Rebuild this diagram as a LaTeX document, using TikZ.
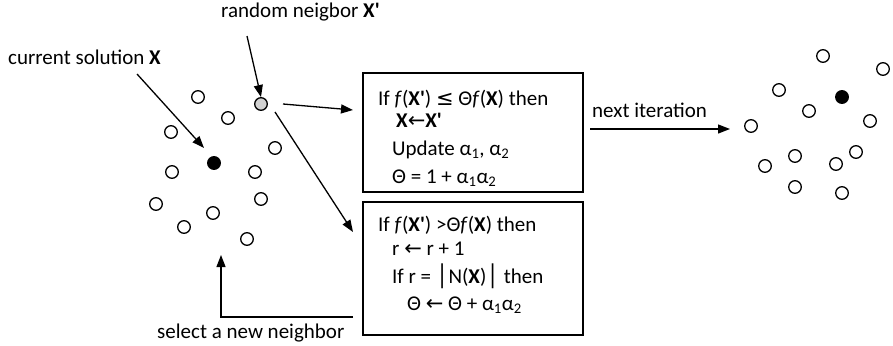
\documentclass[tikz,border=0pt]{standalone}
\usepackage{fontspec}
\setmainfont{Carlito}
\newfontfamily\sym{DejaVu Sans}
\usetikzlibrary{arrows.meta}
\newcommand{\Xp}{\textbf{X\textquotesingle}}
\newcommand{\alp}[1]{α\textsubscript{#1}}
\begin{document}
\begin{tikzpicture}[x=1pt,y=-1pt,
  font=\fontsize{21}{25}\selectfont,
  dot/.style={circle,draw,line width=1.3pt,minimum size=12.6pt,inner sep=0pt},
  best/.style={dot,fill=black},
  cand/.style={dot,fill=black!18},
  box/.style={draw,line width=1.3pt,inner sep=0pt},
  txt/.style={anchor=base west,inner sep=0pt},
  arr/.style={-{Triangle[length=12pt,width=9pt]},line width=1.3pt}]
\useasboundingbox (0,0) rectangle (893,345);
% left cluster
\node[dot] (a1) at (198,97) {};
\node[dot] (a2) at (228,118) {};
\node[cand] (G) at (261,104) {};
\node[dot] (a3) at (171,132) {};
\node[best] (X) at (214,163) {};
\node[dot] (a4) at (275,148) {};
\node[dot] (a5) at (172,172) {};
\node[dot] (a6) at (255,172) {};
\node[dot] (a7) at (156,204) {};
\node[dot] (a8) at (261,199) {};
\node[dot] (a9) at (213,213) {};
\node[dot] (a10) at (184,227) {};
\node[dot] (a11) at (247,239) {};
% right cluster
\node[dot] (b1) at (823,56) {};
\node[dot] (b2) at (883,69) {};
\node[dot] (b3) at (779,90) {};
\node[best] (Xn) at (842,97) {};
\node[dot] (b4) at (809,111) {};
\node[dot] (b5) at (870,121) {};
\node[dot] (b6) at (751,126) {};
\node[dot] (b7) at (856,152) {};
\node[dot] (b8) at (795,156) {};
\node[dot] (b9) at (765,166) {};
\node[dot] (b10) at (836,164) {};
\node[dot] (b11) at (795,187) {};
\node[dot] (b12) at (842,193) {};
% labels
\node[txt] (cur) at (8,64) {current solution \textbf{X}};
\node[txt] (rnd) at (221,18) {random neigbor \Xp};
\node[txt] (nxt) at (592,117) {next iteration};
\node[txt] (sel) at (157,338) {select a new neighbor};
% boxes
\node[box,minimum width=220pt,minimum height=119pt] (box1) at (473,132.5) {};
\node[box,minimum width=220pt,minimum height=133pt] (box2) at (473,268.5) {};
\node[txt] (p1) at (378,105) {If \textit{f}(\Xp) {\sym ≤} Θ\textit{f}(\textbf{X}) then};
\node[txt] (p2) at (396,127) {\textbf{X}{\sym ←}\Xp};
\node[txt] (p3) at (392,155) {Update \alp{1}, \alp{2}};
\node[txt] (p4) at (392,183) {Θ = 1 + \alp{1}\alp{2}};
\node[txt] (q1) at (378,231) {If \textit{f}(\Xp) >Θ\textit{f}(\textbf{X}) then};
\node[txt] (q2) at (392,255) {r {\sym ←} r + 1};
\node[txt] (q3) at (392,283) {If r = {\sym │}N(\textbf{X}){\sym │} then};
\node[txt] (q4) at (407,310) {Θ {\sym ←} Θ + \alp{1}\alp{2}};
% connector ends
\coordinate (c1) at (137,74);
\coordinate (c2) at (204,148);
\coordinate (r1) at (247,36);
\coordinate (g1) at (283,104);
\coordinate (t1) at (353,110);
\coordinate (g2) at (275,112);
\coordinate (t2) at (353,232);
\coordinate (n1) at (590,129);
\coordinate (n2) at (730,129);
\coordinate (s1) at (353,317);
\coordinate (s2) at (221,255);
% connectors
\draw[arr] (c1) -- (c2);
\draw[arr] (r1) -- (G.north);
\draw[arr] (g1) -- (t1);
\draw[arr] (g2) -- (t2);
\draw[arr] (n1) -- (n2);
\draw[arr] (s1) -| (s2);
\end{tikzpicture}
\end{document}
